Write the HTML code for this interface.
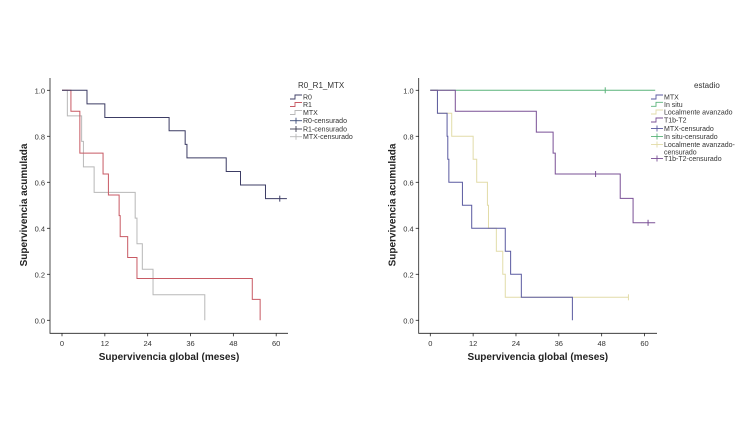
<!DOCTYPE html>
<html><head><meta charset="utf-8"><style>
html,body{margin:0;padding:0;background:#fff;}
svg{display:block;font-family:"Liberation Sans",sans-serif;}
</style></head><body>
<svg id="s" width="750" height="422"></svg>
<script>
// Left chart data (time, survival after step)
const leftSeriesNames = ["R0","R1","MTX"];
const leftR0T = [0,7,12,30,34.5,35,46,50,57];
const leftR0V = [1,0.941,0.882,0.824,0.765,0.706,0.647,0.588,0.529];
const leftR0End = 63;
const leftR0Cens = [61];
const leftR1T = [0,2.5,5,11.5,13,16,16.3,18.4,21,53.3,55.5];
const leftR1V = [1,0.909,0.727,0.636,0.545,0.455,0.364,0.273,0.182,0.091,0];
const leftR1End = 55.5;
const leftMTXT = [0,1.5,5.5,6,9,20.5,21,22.5,25.5,40];
const leftMTXV = [1,0.889,0.778,0.667,0.556,0.444,0.333,0.222,0.111,0];
const leftMTXEnd = 40;
// Right chart data
const rMTXT = [0,2,4.7,4.9,5.2,9,11.6,21,22.5,25.5,39.8];
const rMTXV = [1,0.9,0.8,0.7,0.6,0.5,0.4,0.3,0.2,0.1,0];
const rMTXEnd = 39.8;
const rInSituT = [0];
const rInSituV = [1];
const rInSituEnd = 63;
const rInSituCens = [49];
const rLocT = [0,2,6,12,13,16,16.3,18.5,20.3,21];
const rLocV = [1,0.9,0.8,0.7,0.6,0.5,0.4,0.3,0.2,0.1];
const rLocEnd = 55.5;
const rLocCens = [55.5];
const rT1T = [0,7,29.7,34.4,35,53.2,56.8];
const rT1V = [1,0.909,0.818,0.727,0.636,0.53,0.424];
const rT1End = 63;
const rT1Cens = [46.3,61];
const xTicks = [0,12,24,36,48,60];
const yTicks = [0,0.2,0.4,0.6,0.8,1.0];

const svg = document.getElementById('s');
const NS = "http://www.w3.org/2000/svg";
function mk(tag, attrs, parent){
  const e = document.createElementNS(NS, tag);
  for (const k in attrs) e.setAttribute(k, attrs[k]);
  (parent||svg).appendChild(e);
  return e;
}
function chart(x0, axisL, axisR, name){
  const g = mk('g', {});
  
  
  const sx = t => x0 + t * 3.57;
  const sy = v => 320.3 - v * 230;
  const ax = mk('path', {d:`M${axisL},78 V333.3 H${axisR}`, stroke:'#222', 'stroke-width':0.8, fill:'none'}, g);
  
  
  yTicks.forEach(v => {
    mk('line', {x1:axisL-3, x2:axisL, y1:sy(v), y2:sy(v), stroke:'#222', 'stroke-width':0.8}, g);
    const t = mk('text', {x:axisL-5, y:sy(v)+3, 'font-size':7.5, 'text-anchor':'end', fill:'#333'}, g);
    t.textContent = v.toFixed(1);
    
    
  });
  xTicks.forEach(v => {
    mk('line', {x1:sx(v), x2:sx(v), y1:333.3, y2:336.3, stroke:'#222', 'stroke-width':0.8}, g);
    const t = mk('text', {x:sx(v), y:346, 'font-size':7.5, 'text-anchor':'middle', fill:'#333'}, g);
    t.textContent = v;
    
    
  });
  const xt = mk('text', {x:(axisL+axisR)/2, y:360, 'font-size':10, 'font-weight':'bold', 'text-anchor':'middle', fill:'#222'}, g);
  xt.textContent = 'Supervivencia global (meses)';
  
  
  const yt = mk('text', {x:0, y:0, 'font-size':10, 'font-weight':'bold', 'text-anchor':'middle', fill:'#222', transform:`translate(${axisL-23},205) rotate(-90)`}, g);
  yt.textContent = 'Supervivencia acumulada';
  
  
  return {g, sx, sy};
}
function series(c, T, V, end, cens, color, name){
  let d = `M${c.sx(T[0])},${c.sy(V[0])}`;
  for (let i = 1; i < T.length; i++){
    d += ` H${c.sx(T[i])} V${c.sy(V[i])}`;
  }
  d += ` H${c.sx(end)}`;
  const p = mk('path', {d, stroke:color, 'stroke-width':1, fill:'none'}, c.g);
  
  
  (cens||[]).forEach(t => {
    let v = V[0];
    for (let i = 0; i < T.length; i++) if (T[i] <= t) v = V[i];
    const m = mk('line', {x1:c.sx(t), x2:c.sx(t), y1:c.sy(v)-3, y2:c.sy(v)+3, stroke:color, 'stroke-width':1}, c.g);
    
    
  });
}
function legend(x, title, titleX, items){
  const g = mk('g', {});
  
  
  const t = mk('text', {x:titleX, y:88, 'font-size':8, fill:'#333'}, g);
  t.textContent = title;
  
  
  items.forEach(it => {
    const y = it[2];
    if (it[3] === 'step') {
      mk('path', {d:`M${x-12},${y+2} H${x-7} V${y-2} H${x}`, stroke:it[1], fill:'none', 'stroke-width':0.9}, g);
    } else {
      mk('line', {x1:x-12, x2:x, y1:y, y2:y, stroke:it[1], 'stroke-width':0.9}, g);
      mk('line', {x1:x-6, x2:x-6, y1:y-3, y2:y+3, stroke:it[1], 'stroke-width':0.9}, g);
    }
    it[0].split('\n').forEach((ln, k) => {
      const e = mk('text', {x:x+1, y:y+2.5+k*7.5, 'font-size':7, fill:'#333'}, g);
      e.textContent = ln;
      
      
    });
  });
}
const L = chart(62, 50, 288, 'left-chart');
series(L, leftMTXT, leftMTXV, leftMTXEnd, [], '#b8b8b8', 'mtx');
series(L, leftR1T, leftR1V, leftR1End, [], '#c85a64', 'r1');
series(L, leftR0T, leftR0V, leftR0End, leftR0Cens, '#3c3c64', 'r0');
legend(302, 'R0_R1_MTX', 298, [['R0','#3c3c64',97,'step'],['R1','#c85a64',104.5,'step'],['MTX','#b8b8b8',112.5,'step'],['R0-censurado','#3c4c78',120.7],['R1-censurado','#3c3c50',129],['MTX-censurado','#b8b8b8',136.7]]);

const R = chart(430.3, 418.7, 657, 'right-chart');
series(R, rLocT, rLocV, rLocEnd, rLocCens, '#e2dca8', 'localmente-avanzado');
series(R, rMTXT, rMTXV, rMTXEnd, [], '#5a5aa0', 'mtx');
series(R, rInSituT, rInSituV, rInSituEnd, rInSituCens, '#5ab47a', 'in-situ');
series(R, rT1T, rT1V, rT1End, rT1Cens, '#7a5096', 't1b-t2');
legend(663, 'estadio', 694, [['MTX','#5a5aa0',97,'step'],['In situ','#5ab47a',104.3,'step'],['Localmente avanzado','#e2dca8',112,'step'],['T1b-T2','#7a5096',120,'step'],['MTX-censurado','#5a5aa0',128.5],['In situ-censurado','#5ab47a',136.5],['Localmente avanzado-\ncensurado','#e2dca8',144.5],['T1b-T2-censurado','#7a5096',158.5]]);
</script>
</body></html>
